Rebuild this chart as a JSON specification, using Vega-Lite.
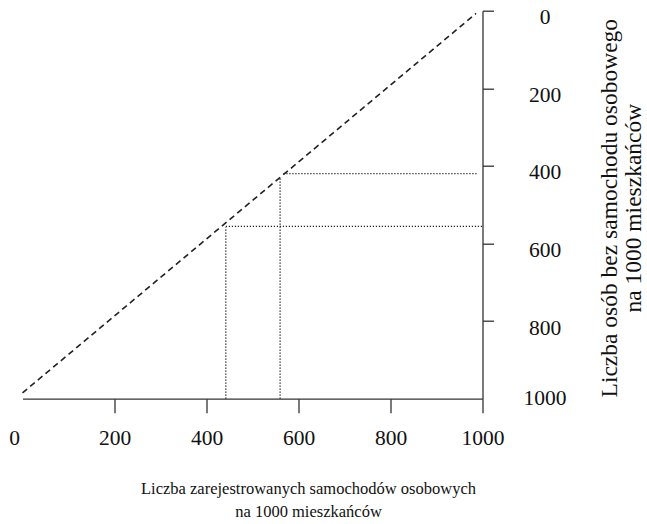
{
  "$schema": "https://vega.github.io/schema/vega-lite/v6.json",
  "width": 460,
  "height": 388,
  "autosize": {"type": "none"},
  "padding": {"left": 22.5, "top": 10.7, "right": 164.5, "bottom": 125.3},
  "background": "white",
  "config": {
    "view": {"stroke": null},
    "font": "Liberation Serif",
    "axis": {
      "grid": false,
      "domainColor": "#333",
      "domainWidth": 1.3,
      "tickColor": "#333",
      "tickWidth": 1.3,
      "labelFont": "Liberation Serif",
      "labelFontSize": 21.5,
      "labelFontWeight": "normal",
      "labelColor": "#111",
      "titleFont": "Liberation Serif",
      "titleFontWeight": "normal",
      "titleColor": "#111"
    }
  },
  "data": {
    "values": [
      {"kind": "diag", "x": 0, "y": 985, "x2": 986, "y2": 7},
      {"kind": "dot", "x": 560, "y": 1000, "x2": 560, "y2": 431},
      {"kind": "dot", "x": 567, "y": 420, "x2": 990, "y2": 420},
      {"kind": "dot", "x": 442, "y": 1000, "x2": 442, "y2": 558},
      {"kind": "dot", "x": 442, "y": 556, "x2": 1000, "y2": 556}
    ]
  },
  "encoding": {
    "x": {
      "field": "x",
      "type": "quantitative",
      "scale": {"domain": [0, 1000], "nice": false, "zero": false},
      "axis": {
        "orient": "bottom",
        "values": [0, 200, 400, 600, 800, 1000],
        "format": "d",
        "tickSize": 14,
        "tickOpacity": {"condition": {"test": "datum.value == 0", "value": 0}, "value": 1},
        "labelAlign": {"condition": {"test": "datum.value == 0", "value": "right"}, "value": "center"},
        "labelOffset": {"condition": {"test": "datum.value == 0", "value": -3}, "value": 0},
        "labelBaseline": "top",
        "labelPadding": 15,
        "labelFlush": false,
        "title": ["Liczba zarejestrowanych samochodów osobowych", "na 1000 mieszkańców"],
        "titleFontSize": 16.5,
        "titleLineHeight": 23,
        "titleBaseline": "top",
        "titleAlign": "center",
        "titleAnchor": "middle",
        "titleX": 285.5,
        "titleY": 82
      }
    },
    "y": {
      "field": "y",
      "type": "quantitative",
      "scale": {"domain": [0, 1000], "nice": false, "zero": false, "reverse": true},
      "axis": {
        "orient": "right",
        "values": [0, 200, 400, 600, 800, 1000],
        "format": "d",
        "tickSize": 11,
        "tickOpacity": {"condition": {"test": "datum.value == 1000", "value": 0}, "value": 1},
        "labelAlign": "center",
        "labelBaseline": "middle",
        "labelPadding": 51,
        "labelOffset": {"condition": {"test": "datum.value == 1000", "value": 0}, "value": 7},
        "labelFlush": false,
        "title": ["Liczba osób bez samochodu osobowego", "na 1000 mieszkańców"],
        "titleFontSize": 23.5,
        "titleLineHeight": 24,
        "titleAngle": 270,
        "titleBaseline": "top",
        "titleAlign": "center",
        "titleX": 115,
        "titleY": 197
      }
    },
    "x2": {"field": "x2"},
    "y2": {"field": "y2"}
  },
  "layer": [
    {
      "transform": [{"filter": "datum.kind == 'diag'"}],
      "mark": {"type": "rule", "color": "#222", "strokeWidth": 1.6, "strokeDash": [6, 4]}
    },
    {
      "transform": [{"filter": "datum.kind == 'dot'"}],
      "mark": {"type": "rule", "color": "#222", "strokeWidth": 1.3, "strokeDash": [1.2, 1.8]}
    }
  ]
}
